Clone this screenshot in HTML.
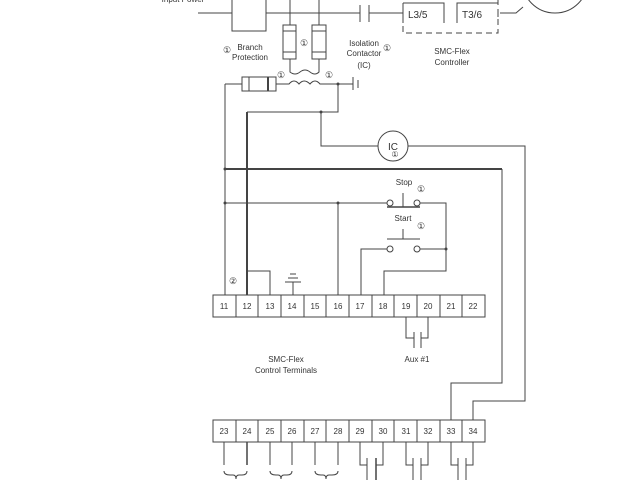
<!DOCTYPE html>
<html><head><style>body{margin:0;background:#fff}svg{display:block}text{font-family:"Liberation Sans",sans-serif;fill:#333}</style></head>
<body>
<svg width="640" height="480" viewBox="0 0 640 480" xmlns="http://www.w3.org/2000/svg" stroke="#444" fill="none" stroke-width="1">
<!-- top power -->
<text x="183" y="2" font-size="8" text-anchor="middle" stroke="none">Input Power</text>
<line x1="198" y1="13" x2="232" y2="13"/>
<rect x="232" y="-2" width="34" height="33"/>
<line x1="266" y1="13" x2="360" y2="13"/>
<line x1="360" y1="5" x2="360" y2="22"/><line x1="369" y1="5" x2="369" y2="22"/>
<line x1="369" y1="13" x2="403" y2="13"/>
<polyline points="403,3 444,3 444,23"/><line x1="403" y1="3" x2="403" y2="23"/>
<text x="408" y="18" font-size="10" stroke="none">L3/5</text>
<polyline points="457,23 457,3 498,3"/>
<text x="462" y="18" font-size="10" stroke="none">T3/6</text>
<line x1="498" y1="10" x2="498" y2="17"/>
<polyline points="500,13 516,13 523,7"/>
<circle cx="555" cy="-20" r="33"/>
<path d="M403 26 V33 H498 V0" stroke-dasharray="6,4"/>
<line x1="290" y1="0" x2="290" y2="25"/><line x1="319" y1="0" x2="319" y2="25"/>
<rect x="283" y="25" width="13" height="34"/><line x1="283" y1="31" x2="296" y2="31"/><line x1="283" y1="52" x2="296" y2="52"/>
<rect x="312" y="25" width="14" height="34"/><line x1="312" y1="31" x2="326" y2="31"/><line x1="312" y1="52" x2="326" y2="52"/>
<path d="M290 59 V72 Q295 76 300 72 Q305 68 310 72 Q315 76 319 72 V59"/>
<text x="304" y="46" font-size="9" text-anchor="middle" stroke="none">①</text>
<text x="227" y="53" font-size="9" text-anchor="middle" stroke="none">①</text>
<text x="250" y="50" font-size="8" text-anchor="middle" stroke="none">Branch</text>
<text x="250" y="60" font-size="8" text-anchor="middle" stroke="none">Protection</text>
<text x="364" y="46" font-size="8" text-anchor="middle" stroke="none">Isolation</text>
<text x="364" y="56" font-size="8" text-anchor="middle" stroke="none">Contactor</text>
<text x="364" y="68" font-size="8" text-anchor="middle" stroke="none">(IC)</text>
<text x="387" y="51" font-size="9" text-anchor="middle" stroke="none">①</text>
<text x="452" y="54" font-size="8" text-anchor="middle" stroke="none">SMC-Flex</text>
<text x="452" y="65" font-size="8" text-anchor="middle" stroke="none">Controller</text>
<text x="281" y="78" font-size="9" text-anchor="middle" stroke="none">①</text>
<text x="329" y="78" font-size="9" text-anchor="middle" stroke="none">①</text>
<!-- secondary -->
<path d="M276 84 H289 Q294 78 299 84 Q304 78 310 84 Q315 78 320 84 H353"/>
<rect x="242" y="77" width="34" height="14"/><line x1="249" y1="77" x2="249" y2="91"/><line x1="268" y1="77" x2="268" y2="91" stroke-width="2"/>
<line x1="225" y1="84" x2="242" y2="84"/>
<line x1="353" y1="77" x2="353" y2="90"/><line x1="358" y1="80" x2="358" y2="88"/>
<circle cx="338" cy="84" r="1" fill="#444"/>
<polyline points="338,84 338,112 247,112"/>
<circle cx="321" cy="112" r="1" fill="#444"/>
<polyline points="321,112 321,146 378,146"/>
<circle cx="393" cy="146" r="15"/>
<text x="388" y="150" font-size="10" stroke="none">IC</text>
<text x="395" y="157" font-size="8" text-anchor="middle" stroke="none">①</text>
<polyline points="408,146 525,146 525,401 473,401 473,420"/>
<line x1="247" y1="112" x2="247" y2="271" stroke-width="2"/>
<line x1="225" y1="84" x2="225" y2="295"/>
<line x1="225" y1="169" x2="502" y2="169" stroke-width="2"/>
<polyline points="502,169 502,383 451,383 451,420"/>
<!-- stop/start -->
<line x1="225" y1="203" x2="387" y2="203"/>
<circle cx="225" cy="169" r="1" fill="#444"/><circle cx="225" cy="203" r="1" fill="#444"/><circle cx="338" cy="203" r="1" fill="#444"/>
<line x1="338" y1="203" x2="338" y2="295"/>
<circle cx="390" cy="203" r="3"/><circle cx="417" cy="203" r="3"/>
<line x1="387" y1="207" x2="420" y2="207" stroke-width="1.5"/><line x1="403" y1="193" x2="403" y2="207"/>
<text x="404" y="185" font-size="8" text-anchor="middle" stroke="none">Stop</text>
<text x="421" y="192" font-size="9" text-anchor="middle" stroke="none">①</text>
<polyline points="420,203 446,203 446,271 384,271 384,295"/>
<circle cx="446" cy="249" r="1" fill="#444"/>
<text x="403" y="221" font-size="8" text-anchor="middle" stroke="none">Start</text>
<text x="421" y="229" font-size="9" text-anchor="middle" stroke="none">①</text>
<line x1="387" y1="239" x2="420" y2="239"/><line x1="403" y1="229" x2="403" y2="239"/>
<circle cx="390" cy="249" r="3"/><circle cx="417" cy="249" r="3"/>
<polyline points="387,249 361,249 361,295"/><line x1="420" y1="249" x2="446" y2="249"/>
<polyline points="247,271 270,271 270,295"/>
<line x1="247" y1="271" x2="247" y2="295" stroke-width="2"/>
<line x1="290" y1="274" x2="296" y2="274"/><line x1="288" y1="278" x2="298" y2="278"/><line x1="285" y1="282" x2="301" y2="282"/><line x1="293" y1="282" x2="293" y2="295"/>
<text x="233" y="284" font-size="9" text-anchor="middle" stroke="none">②</text>
<!-- terminals top -->
<g font-size="8" text-anchor="middle">
<rect x="213" y="295" width="272" height="22"/>
<path d="M236 295V317M258 295V317M281 295V317M304 295V317M326 295V317M349 295V317M372 295V317M394 295V317M417 295V317M440 295V317M462 295V317"/>
<text x="224" y="309" stroke="none">11</text><text x="247" y="309" stroke="none">12</text><text x="270" y="309" stroke="none">13</text><text x="292" y="309" stroke="none">14</text><text x="315" y="309" stroke="none">15</text><text x="338" y="309" stroke="none">16</text><text x="360" y="309" stroke="none">17</text><text x="383" y="309" stroke="none">18</text><text x="406" y="309" stroke="none">19</text><text x="428" y="309" stroke="none">20</text><text x="451" y="309" stroke="none">21</text><text x="473" y="309" stroke="none">22</text>
<rect x="213" y="420" width="272" height="22"/>
<path d="M236 420V442M258 420V442M281 420V442M304 420V442M326 420V442M349 420V442M372 420V442M394 420V442M417 420V442M440 420V442M462 420V442"/>
<text x="224" y="434" stroke="none">23</text><text x="247" y="434" stroke="none">24</text><text x="270" y="434" stroke="none">25</text><text x="292" y="434" stroke="none">26</text><text x="315" y="434" stroke="none">27</text><text x="338" y="434" stroke="none">28</text><text x="360" y="434" stroke="none">29</text><text x="383" y="434" stroke="none">30</text><text x="406" y="434" stroke="none">31</text><text x="428" y="434" stroke="none">32</text><text x="451" y="434" stroke="none">33</text><text x="473" y="434" stroke="none">34</text>
</g>
<polyline points="406,317 406,338 414,338"/><polyline points="428,317 428,338 421,338"/>
<line x1="414" y1="332" x2="414" y2="348"/><line x1="421" y1="332" x2="421" y2="348"/>
<text x="417" y="362" font-size="8" text-anchor="middle" stroke="none">Aux #1</text>
<text x="286" y="362" font-size="8" text-anchor="middle" stroke="none">SMC-Flex</text>
<text x="286" y="373" font-size="8" text-anchor="middle" stroke="none">Control Terminals</text>
<!-- bottom -->
<line x1="224" y1="442" x2="224" y2="465"/><line x1="247" y1="442" x2="247" y2="465" stroke-width="1.5"/>
<line x1="270" y1="442" x2="270" y2="465"/><line x1="292" y1="442" x2="292" y2="465"/>
<line x1="315" y1="442" x2="315" y2="465"/><line x1="338" y1="442" x2="338" y2="465"/>
<path d="M224 471 Q224 475 230 475 H233 Q236 475 236 479 Q236 475 239 475 H242 Q247 475 247 471"/>
<path d="M270 471 Q270 475 276 475 H278 Q281 475 281 479 Q281 475 284 475 H287 Q292 475 292 471"/>
<path d="M315 471 Q315 475 321 475 H323 Q326 475 326 479 Q326 475 329 475 H332 Q338 475 338 471"/>
<polyline points="360,442 360,465 367,465"/><polyline points="383,442 383,465 376,465"/>
<line x1="367" y1="458" x2="367" y2="480"/><line x1="376" y1="458" x2="376" y2="480" stroke-width="1.5"/>
<polyline points="406,442 406,465 413,465"/><polyline points="428,442 428,465 421,465"/>
<line x1="413" y1="458" x2="413" y2="480"/><line x1="421" y1="458" x2="421" y2="480"/>
<polyline points="451,442 451,465 458,465"/><polyline points="473,442 473,465 466,465"/>
<line x1="458" y1="458" x2="458" y2="480"/><line x1="466" y1="458" x2="466" y2="480"/>
</svg>
</body></html>
